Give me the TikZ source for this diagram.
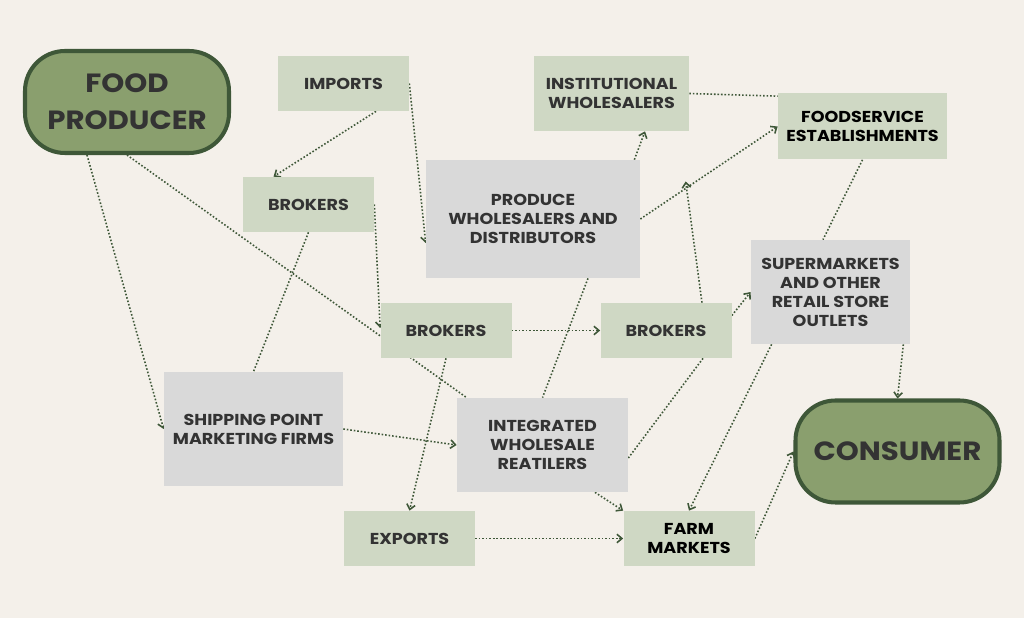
\documentclass[tikz,border=0pt]{standalone}
\usepackage{fontspec}
\setmainfont{Poppins}[FakeStretch=1.11]
\usepackage{tikz}
\usetikzlibrary{calc}
\usetikzlibrary{arrows.meta}
\usetikzlibrary{positioning}
\definecolor{paper}{HTML}{F4F0EA}
\definecolor{sage}{HTML}{CFD8C4}
\definecolor{cloud}{HTML}{D9D9D9}
\definecolor{moss}{HTML}{8A9F6E}
\definecolor{forest}{HTML}{3E5738}
\definecolor{ink}{HTML}{333333}
\pgfdeclarelayer{back}
\pgfdeclarelayer{links}
\pgfsetlayers{back,links,main}

\begin{document}
\begin{tikzpicture}[node distance=10mm,on grid,>={Straight Barb[length=1mm,width=1.7mm]},
		box/.style={rectangle,inner sep=0pt,align=center,text=ink,font=\fontsize{9}{10.8}\selectfont\bfseries},
		lightbox/.style={box,fill=sage,minimum width=26.2mm,minimum height=11mm},
		greybox/.style={box,fill=cloud},
		bigbox/.style={rectangle,rounded corners=8mm,draw=forest,line width=2.3pt,fill=moss,
			minimum width=40.8mm,minimum height=20.4mm,align=center,text=ink,font=\fontsize{15}{21}\selectfont\bfseries},
		flow/.style={draw=forest,line width=0.9pt,dash pattern=on 0.9pt off 1.1pt}]
		\node[bigbox]   (producer)                                        {FOOD\\PRODUCER};
		\node[lightbox] (imports)  [above right=3.7mm and 43.3mm of producer] {IMPORTS};
		\node[lightbox] (brokA)    [below left=24.2mm and 7mm of imports]  {BROKERS};
		\node[lightbox,minimum width=31mm,minimum height=15mm] (inst) [below right=2mm and 53.6mm of imports] {INSTITUTIONAL\\WHOLESALERS};
		\node[lightbox,minimum width=33.8mm,minimum height=13.2mm,text=black] (foodsvc) [below right=6.6mm and 50.2mm of inst] {FOODSERVICE\\ESTABLISHMENTS};
		\node[greybox,minimum width=42.8mm,minimum height=23.6mm] (produce) [below left=25.1mm and 15.7mm of inst] {PRODUCE\\WHOLESALERS AND\\DISTRIBUTORS};
		\node[greybox,minimum width=31.8mm,minimum height=20.8mm] (superm) [below left=33.1mm and 6.4mm of foodsvc] {SUPERMARKETS\\AND OTHER\\RETAIL STORE\\OUTLETS};
		\node[lightbox] (brokB)    [below right=25.2mm and 27.5mm of brokA] {BROKERS};
		\node[lightbox] (brokC)    [right=44mm of brokB]                  {BROKERS};
		\node[greybox,minimum width=35.8mm,minimum height=22.8mm] (ship) [below left=44.9mm and 11mm of brokA] {SHIPPING POINT\\MARKETING FIRMS};
		\node[greybox,minimum width=34.2mm,minimum height=18.8mm] (integ) [below right=22.9mm and 19.3mm of brokB] {INTEGRATED\\WHOLESALE\\REATILERS};
		\node[bigbox]   (consumer) [below right=31.9mm and 13.4mm of superm] {CONSUMER};
		\node[lightbox] (exports)  [below left=41.6mm and 7.3mm of brokB]  {EXPORTS};
		\node[lightbox,text=black] (farm) [right=55.9mm of exports]        {FARM\\MARKETS};
		
		\coordinate (junction) at ($(produce.east)!0.33!(foodsvc.west)+(0,1.4mm)$);
		
		\begin{pgfonlayer}{back}
		\fill[paper] (-25.4mm,-103.2mm) rectangle (179.4mm,20.4mm);
		\end{pgfonlayer}
		\useasboundingbox (-25.4mm,-103.2mm) rectangle (179.4mm,20.4mm);
		
		\begin{pgfonlayer}{links}
		\path[flow]
		([xshift=-8mm]producer.south) edge[->] (ship.west)
		(producer.south) edge ($(integ.north west)+(2mm,0)$)
		([xshift=6.5mm]imports.south) edge[->] ([xshift=-7mm]brokA.north)
		(imports.east) edge[->] ([yshift=-4.8mm]produce.west)
		(brokA.east) edge[->] ([yshift=0.5mm]brokB.west)
		(brokA.south) edge (ship.north)
		(brokB.east) edge[->] (brokC.west)
		(brokB.south) edge[->] (exports.north)
		([xshift=-1.2mm]produce.north east) edge[->] ([xshift=6.7mm]inst.south)
		(produce.east) edge[->] (foodsvc.west)
		(inst.east) edge ([yshift=-0.6mm]foodsvc.north west)
		([xshift=7.2mm]brokC.north) edge[->] (junction)
		(foodsvc.south) edge ([xshift=-1.5mm]superm.north)
		([yshift=3mm]brokC.east) edge[->] (superm.west)
		([xshift=7.4mm]brokC.south) edge ([yshift=-2.6mm]integ.east)
		([xshift=11mm]produce.south) edge (integ.north)
		(ship.east) edge[->] (integ.west)
		([xshift=10.5mm]integ.south) edge[->] (farm.north west)
		(exports.east) edge[->] (farm.west)
		([xshift=4.2mm]superm.south west) edge[->] (farm.north)
		([xshift=-1.4mm]superm.south east) edge[->] (consumer.north)
		(farm.east) edge[->] (consumer.west);
		\end{pgfonlayer}
\end{tikzpicture}
\end{document}
